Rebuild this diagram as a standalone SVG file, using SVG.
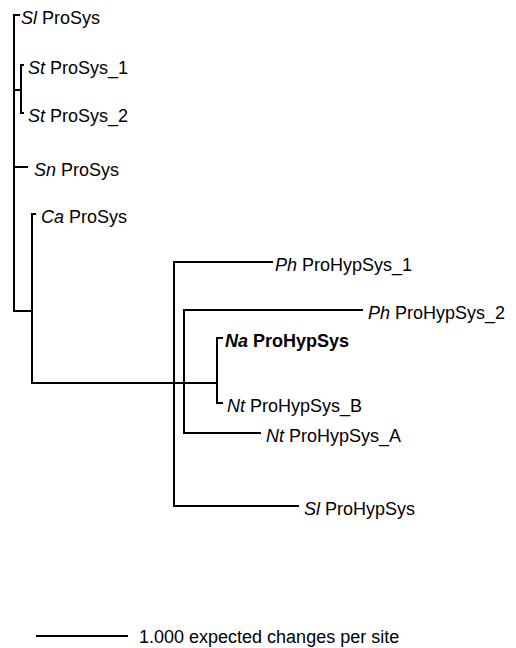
<svg xmlns="http://www.w3.org/2000/svg" width="516" height="648" viewBox="0 0 516 648">
<style>
.br{stroke:#000;stroke-width:2;fill:none;stroke-linecap:square}
text{font-family:"Liberation Sans",Arial,sans-serif;font-size:18px;fill:#000}
.i{font-style:italic}
.b{font-weight:bold}
</style>
<rect width="516" height="648" fill="#fff"/>
<g id="connectors">
<path class="br" d="M14,15V311 M14,15H19 M14,90H20 M21,65V113 M21,65H23 M21,113H23 M14,167H27 M14,311H32 M32,214V383 M32,214H35 M32,383H217 M174,262V506 M174,262H272 M174,506H298 M184,310V433 M184,310H362 M184,433H260 M217,338V403 M217,338H222 M217,403H222"/>
</g>
<g id="leaf-sl-prosys"><text x="21" y="24"><tspan class="i">Sl</tspan> ProSys</text></g>
<g id="leaf-st-prosys-1"><text x="28" y="74"><tspan class="i">St</tspan> ProSys_1</text></g>
<g id="leaf-st-prosys-2"><text x="28" y="122"><tspan class="i">St</tspan> ProSys_2</text></g>
<g id="leaf-sn-prosys"><text x="34" y="176"><tspan class="i">Sn</tspan> ProSys</text></g>
<g id="leaf-ca-prosys"><text x="41" y="223"><tspan class="i">Ca</tspan> ProSys</text></g>
<g id="leaf-ph-prohypsys-1"><text x="275" y="271"><tspan class="i">Ph</tspan> ProHypSys_1</text></g>
<g id="leaf-ph-prohypsys-2"><text x="368" y="319"><tspan class="i">Ph</tspan> ProHypSys_2</text></g>
<g id="leaf-na-prohypsys"><text x="225" y="347" class="b"><tspan class="i">Na</tspan> ProHypSys</text></g>
<g id="leaf-nt-prohypsys-b"><text x="227" y="412"><tspan class="i">Nt</tspan> ProHypSys_B</text></g>
<g id="leaf-nt-prohypsys-a"><text x="266" y="442"><tspan class="i">Nt</tspan> ProHypSys_A</text></g>
<g id="leaf-sl-prohypsys"><text x="304" y="515"><tspan class="i">Sl</tspan> ProHypSys</text></g>
<g id="scale-bar">
<path class="br" d="M37,636H127"/>
<text x="139" y="643">1.000 expected changes per site</text>
</g>
</svg>
